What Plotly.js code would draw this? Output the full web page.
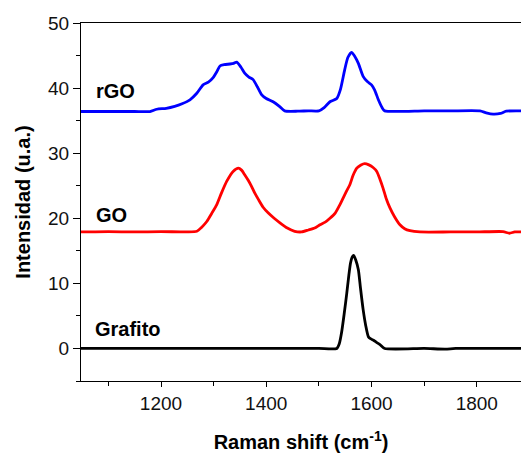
<!DOCTYPE html>
<html>
<head>
<meta charset="utf-8">
<script src="https://cdn.plot.ly/plotly-3.0.1.min.js"></script>
<style>html,body{margin:0;padding:0;background:#fff;}#chart{width:521px;height:456px;}</style>
</head>
<body>
<div id="chart"></div>
<script>
const rgoX = [1048,1100,1150,1179,1192,1210,1226,1240,1255,1268,1280,1290,1299,1306,1312,1320,1331,1338,1344,1352,1359,1367,1375,1383,1391,1400,1413,1425,1435,1460,1480,1500,1510,1521,1534,1541,1549,1555,1562,1568,1575,1584,1592,1600,1606,1613,1620,1625,1700,1750,1806,1818,1831,1845,1856,1884];
const rgoY = [36.4,36.4,36.4,36.4,36.75,36.9,37.2,37.6,38.2,39.2,40.5,40.9,41.6,42.5,43.4,43.6,43.7,43.8,44.0,43.2,42.3,41.7,41.3,40.2,39.0,38.4,37.9,37.2,36.5,36.45,36.5,36.5,37.0,37.9,38.4,39.8,42.8,44.7,45.5,44.9,43.8,41.8,41.0,40.5,39.7,38.2,37.0,36.5,36.5,36.5,36.5,36.2,36.0,36.1,36.45,36.5];

const goX = [1048,1100,1150,1200,1250,1268,1277,1287,1296,1306,1315,1325,1337,1347,1353,1359,1366,1372,1378,1385,1394,1404,1415,1426,1440,1454,1467,1480,1492,1502,1512,1521,1531,1540,1546,1552,1559,1565,1572,1580,1587,1595,1603,1610,1616,1622,1628,1635,1644,1654,1663,1673,1692,1750,1800,1850,1862,1872,1884];
const goY = [17.9,17.95,17.9,17.95,17.9,18.0,18.6,19.5,20.7,22.1,23.9,25.7,27.2,27.7,27.4,26.7,25.8,24.9,23.9,22.9,21.7,20.8,20.0,19.3,18.5,18.0,17.9,18.2,18.5,19.0,19.4,20.0,20.8,22.1,23.1,24.1,25.2,26.6,27.7,28.2,28.4,28.2,27.8,27.2,26.0,24.6,23.0,21.6,20.2,19.0,18.4,18.1,17.9,17.9,17.9,17.95,17.7,17.9,17.9];

const grafX = [1048,1100,1200,1300,1400,1500,1534,1539,1543,1548,1553,1557,1560,1563,1566,1570,1575,1579,1584,1589,1594,1598,1603,1610,1616,1625,1700,1740,1760,1884];
const grafY = [0,0,0,0,0,0,0,0.8,2.4,5.3,8.5,11.3,13.1,14.0,14.3,13.6,12.1,9.3,6.0,3.5,1.8,1.5,1.3,0.9,0.6,0,0,-0.1,0,0];

const labelText = ["rGO","GO","Grafito"];
const labelX = [1072,1072,1071];
const labelY = [39.5,20.5,3.0];

const font = "Arial, 'Liberation Sans', sans-serif";

const traces = [
  {x: grafX, y: grafY, mode: 'lines', line: {color: '#000000', width: 2.8, shape: 'spline', smoothing: 0.6}},
  {x: goX, y: goY, mode: 'lines', line: {color: '#ff0000', width: 2.8, shape: 'spline', smoothing: 0.6}},
  {x: rgoX, y: rgoY, mode: 'lines', line: {color: '#0000ff', width: 2.8, shape: 'spline', smoothing: 0.6}}
];

const annotations = labelText.map((t, i) => ({
  x: labelX[i], y: labelY[i], xref: 'x', yref: 'y', text: '<b>' + t + '</b>',
  showarrow: false, xanchor: 'left', yanchor: 'middle',
  font: {family: font, size: 20, color: '#000'}
}));

const layout = {
  width: 521, height: 456,
  margin: {l: 81, r: 0, t: 23, b: 75},
  paper_bgcolor: '#fff', plot_bgcolor: '#fff',
  showlegend: false,
  font: {family: font, size: 19, color: '#000'},
  xaxis: {
    range: [1048, 1884], tickmode: 'linear', tick0: 1200, dtick: 200,
    ticks: 'outside', ticklen: 5, tickwidth: 1, tickcolor: '#000',
    minor: {dtick: 100, tick0: 1100, ticks: 'outside', ticklen: 4, tickwidth: 1, tickcolor: '#000'},
    showline: true, linecolor: '#000', linewidth: 1, mirror: true,
    showgrid: false, zeroline: false,
    tickfont: {family: font, size: 19, color: '#111'},
    title: {text: '<b>Raman shift (cm<sup>-1</sup>)</b>', font: {family: font, size: 20, color: '#000'}, standoff: 22}
  },
  yaxis: {
    range: [-5, 50], tickmode: 'linear', tick0: 0, dtick: 10,
    ticks: 'outside', ticklen: 7, tickwidth: 1, tickcolor: '#000',
    minor: {dtick: 5, ticks: 'outside', ticklen: 4, tickwidth: 1, tickcolor: '#000'},
    showline: true, linecolor: '#000', linewidth: 1,
    showgrid: false, zeroline: false,
    tickfont: {family: font, size: 19, color: '#111'},
    title: {text: '<b>Intensidad (u.a.)</b>', font: {family: font, size: 20, color: '#000'}, standoff: 12}
  },
  annotations: annotations
};

Plotly.newPlot('chart', traces, layout, {displayModeBar: false, staticPlot: true});
</script>
</body>
</html>
